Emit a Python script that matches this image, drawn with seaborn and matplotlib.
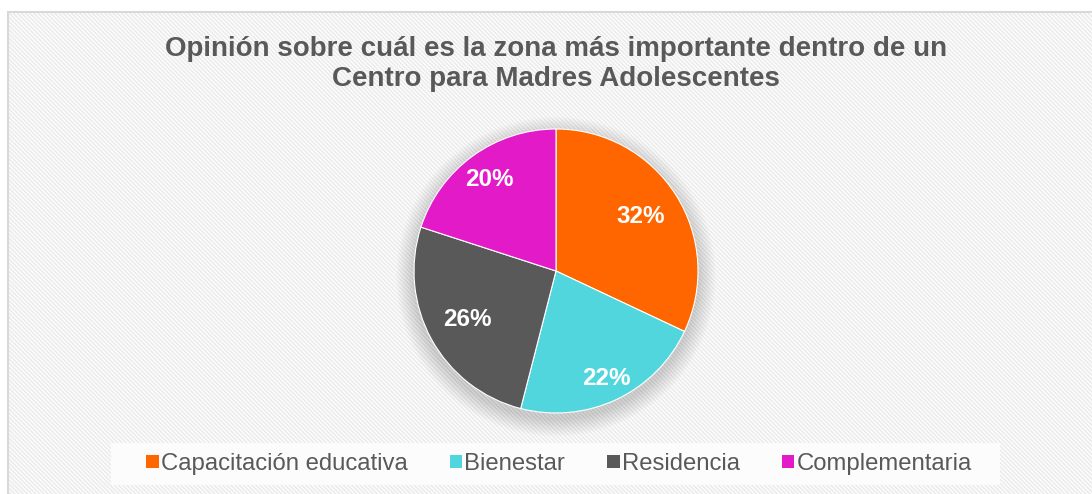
import matplotlib
matplotlib.use("Agg")
import numpy as np
import matplotlib.pyplot as plt
import seaborn as sns
from matplotlib.patches import Rectangle, Circle

sns.set_theme(style="white")
plt.rcParams['font.family'] = ['Liberation Sans', 'DejaVu Sans']
plt.rcParams['hatch.linewidth'] = 1.2

categories = ["Capacitación educativa", "Bienestar", "Residencia", "Complementaria"]
values = [32, 22, 26, 20]
colors = ["#FF6600", "#52D6DE", "#595959", "#E31AC8"]
label_dist = [0.71, 0.84, 0.71, 0.80]
title = "Opinión sobre cuál es la zona más importante dentro de un\nCentro para Madres Adolescentes"

W, H = 1092, 494
fig = plt.figure(figsize=(W / 100, H / 100), dpi=100)
fig.patch.set_facecolor("white")

# chart frame with striped background
frame = Rectangle((8 / W, 0), (W - 8) / W, (H - 12) / H, transform=fig.transFigure,
                  facecolor="#FFFFFF", edgecolor="#EBEBEB", hatch="\\" * 8,
                  linewidth=0, zorder=0)
fig.add_artist(frame)
border = Rectangle((8 / W, -0.01), (W - 8) / W + 0.01, (H - 12) / H + 0.01,
                   transform=fig.transFigure, facecolor="none",
                   edgecolor="#D9D9D9", linewidth=1.5, zorder=1)
fig.add_artist(border)

# title
fig.text(556 / W, 1 - 64 / H, title, ha="center", va="center", fontsize=20,
         fontweight="bold", color="#595959", linespacing=1.2)

# pie axes
cx, cy, r = 556, 271, 142
ax = fig.add_axes([(cx - r) / W, (H - cy - r) / H, 2 * r / W, 2 * r / H])
ax.set_facecolor("none")

# soft shadow
n = 14
for i in range(n):
    rad = 1.0 + 0.009 * (n - i)
    c = Circle((0, -0.04), rad, facecolor="#000000", alpha=0.012,
               edgecolor="none", zorder=0)
    c.set_clip_on(False)
    ax.add_patch(c)

wedges, texts, autotexts = ax.pie(
    values, colors=colors, startangle=90, counterclock=False,
    autopct=lambda p: f"{p:.0f}%", pctdistance=0.64,
    wedgeprops=dict(linewidth=0.8, edgecolor="white"),
    textprops=dict(color="white", fontsize=17.5, fontweight="bold"))
for w, t, d in zip(wedges, autotexts, label_dist):
    w.set_zorder(2)
    t.set_zorder(3)
    ang = np.deg2rad((w.theta1 + w.theta2) / 2)
    t.set_position((d * np.cos(ang), d * np.sin(ang)))
ax.set_xlim(-1, 1)
ax.set_ylim(-1, 1)
ax.set_aspect("equal")
ax.axis("off")

# legend box
lb = Rectangle((111 / W, 1 - 485 / H), (1000 - 111) / W, 42 / H,
               transform=fig.transFigure, facecolor="#FDFDFD", edgecolor="none",
               alpha=0.92, zorder=1)
fig.add_artist(lb)
handles = [Rectangle((0, 0), 1, 1, facecolor=c, edgecolor="none") for c in colors]
leg = fig.legend(handles, categories, loc="center", bbox_to_anchor=(559 / W, 1 - 464 / H),
                 ncol=4, frameon=False, fontsize=17.2, handlelength=0.52,
                 handleheight=0.52, handletextpad=0.1, columnspacing=1.75)
for t in leg.get_texts():
    t.set_color("#595959")

fig.savefig("out.png", dpi=100)
